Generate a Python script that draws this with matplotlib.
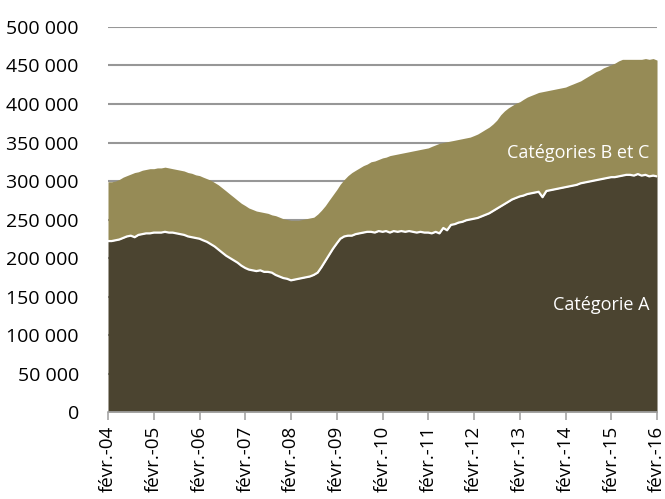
import numpy as np
import pandas as pd
import matplotlib
matplotlib.use("Agg")
import matplotlib.pyplot as plt
from matplotlib.ticker import FuncFormatter, MultipleLocator

plt.rcParams['font.family'] = ['Open Sans', 'DejaVu Sans']

# monthly, févr. 2004 -> févr. 2016 (thousands)
cat_a = [
    222, 222, 223, 224, 226, 228, 229, 227, 230, 231, 232, 232,
    233, 233, 233, 234, 233, 233, 232, 231, 230, 228, 227, 226,
    225, 223, 221, 218, 215, 211, 207, 203, 200, 197, 194, 190,
    187, 185, 184, 183, 184, 182, 182, 181, 178, 176, 174, 173,
    171, 172, 173, 174, 175, 176, 178, 181, 188, 196, 204, 212,
    219, 225, 228, 229, 229, 231, 232, 233, 234, 234, 233, 235,
    234, 235, 233, 235, 234, 235, 234, 235, 234, 233, 234, 233,
    233, 232, 234, 232, 239, 236, 243, 244, 246, 247, 249, 250,
    251, 252, 254, 256, 258, 261, 264, 267, 270, 273, 276, 278,
    280, 281, 283, 284, 285, 286, 279, 287, 288, 289, 290, 291,
    292, 293, 294, 295, 297, 298, 299, 300, 301, 302, 303, 304,
    305, 305, 306, 307, 308, 308, 307, 309, 307, 308, 306, 307,
    306,
]
total_abc = [
    299, 299, 300, 302, 305, 307, 309, 311, 312, 314, 315, 316,
    316, 317, 317, 318, 317, 316, 315, 314, 313, 311, 310, 308,
    307, 305, 303, 301, 298, 295, 291, 287, 283, 279, 275, 271,
    268, 265, 263, 261, 260, 259, 258, 256, 255, 253, 251, 250,
    249, 249, 249, 250, 251, 252, 253, 257, 262, 268, 275, 282,
    289, 296, 302, 307, 311, 314, 317, 320, 322, 325, 326, 328,
    330, 331, 333, 334, 335, 336, 337, 338, 339, 340, 341, 342,
    343, 345, 347, 349, 350, 351, 352, 353, 354, 355, 356, 357,
    359, 361, 364, 367, 370, 374, 379, 386, 391, 395, 398, 401,
    403, 406, 409, 411, 413, 415, 416, 417, 418, 419, 420, 421,
    422, 424, 426, 428, 430, 433, 436, 439, 442, 444, 447, 449,
    451, 453, 456, 458, 458, 458, 458, 458, 458, 459, 458, 459,
    457,
]

dates = pd.date_range("2004-02-01", periods=len(cat_a), freq="MS")
a = np.array(cat_a) * 1000
tot = np.array(total_abc) * 1000

col_a = "#4b4430"
col_bc = "#968b56"

fig = plt.figure(figsize=(6.65, 4.99), dpi=100)
ax = fig.add_axes([0.1624, 0.1743, 0.988 - 0.1624, 0.9459 - 0.1743])

ax.fill_between(dates, 0, a, color=col_a, lw=0, zorder=2)
ax.fill_between(dates, a, tot, color=col_bc, lw=0, zorder=2)
ax.plot(dates, a, color="white", lw=1.6, zorder=3)

ax.set_ylim(0, 500000)
ax.set_xlim(dates[0], dates[-1])
ax.yaxis.set_major_locator(MultipleLocator(50000))
ax.yaxis.set_major_formatter(FuncFormatter(lambda v, p: f"{int(v):,}".replace(",", " ")))
ax.grid(axis="y", color="#979797", lw=1.5, zorder=0)
ax.set_axisbelow(True)

ticks = pd.date_range("2004-02-01", "2016-02-01", freq="12MS")
ax.set_xticks(ticks)
ax.set_xticklabels([f"févr.-{d.year % 100:02d}" for d in ticks], rotation=90)

for s in ["top", "right", "left"]:
    ax.spines[s].set_visible(False)
ax.spines["bottom"].set_color("#a6a6a6")
ax.spines["bottom"].set_linewidth(1.2)
ax.tick_params(axis="y", length=0, labelsize=14, pad=21, colors="black")
ax.tick_params(axis="x", length=6, width=1.2, color="#a6a6a6", labelsize=13.5, pad=4)

ax.text(dates[142], 336000, "Catégories B et C", color="white", fontsize=13,
        ha="right", va="center", zorder=4)
ax.text(dates[142], 139000, "Catégorie A", color="white", fontsize=13,
        ha="right", va="center", zorder=4)

fig.savefig("out.png", dpi=100)
